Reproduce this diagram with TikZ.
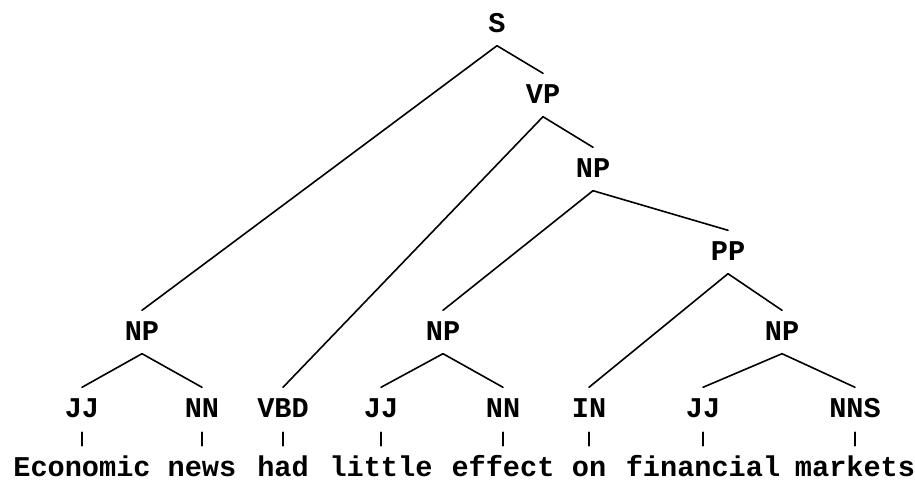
\documentclass[tikz,border=0pt]{standalone}
\usepackage{fontspec}
\newfontfamily\treefont{Liberation Mono}
\begin{document}
\begin{tikzpicture}[x=1pt,y=-1pt,
  lbl/.style={anchor=base,inner xsep=0pt,inner ysep=13.5pt,
    text height=16pt,text depth=0pt,
    font=\treefont\bfseries\fontsize{28.6}{30}\selectfont},
  word/.style={lbl,inner ysep=0.5pt},
  branch/.style={line width=1.6pt,line cap=round}]
\useasboundingbox[fill=white] (0,0) rectangle (915,479);

% phrase labels
\node[lbl] (S)   at (497,32)  {S};
\node[lbl] (VP)  at (543,103) {VP};
\node[lbl] (NPa) at (593,177) {NP};
\node[lbl] (PP)  at (728,260) {PP};
\node[lbl] (NPl) at (142,340) {NP};
\node[lbl] (NPm) at (443,340) {NP};
\node[lbl] (NPr) at (782,340) {NP};

% part-of-speech tags
\node[lbl] (t1) at (82,417)  {JJ};
\node[lbl] (t2) at (202,417) {NN};
\node[lbl] (t3) at (283,417) {VBD};
\node[lbl] (t4) at (381,417) {JJ};
\node[lbl] (t5) at (503,417) {NN};
\node[lbl] (t6) at (589,417) {IN};
\node[lbl] (t7) at (703,417) {JJ};
\node[lbl] (t8) at (855,417) {NNS};

% words
\node[word] (w1) at (82,476)  {Economic};
\node[word] (w2) at (202,476) {news};
\node[word] (w3) at (283,476) {had};
\node[word] (w4) at (381,476) {little};
\node[word] (w5) at (503,476) {effect};
\node[word] (w6) at (589,476) {on};
\node[word] (w7) at (703,476) {financial};
\node[word] (w8) at (855,476) {markets};

% branches
\draw[branch] (S.south) -- (NPl.north);
\draw[branch] (S.south) -- (VP.north);
\draw[branch] (VP.south) -- (t3.north);
\draw[branch] (VP.south) -- (NPa.north);
\draw[branch] (NPa.south) -- (NPm.north);
\draw[branch] (NPa.south) -- (PP.north);
\draw[branch] (PP.south) -- (t6.north);
\draw[branch] (PP.south) -- (NPr.north);
\draw[branch] (NPl.south) -- (t1.north);
\draw[branch] (NPl.south) -- (t2.north);
\draw[branch] (NPm.south) -- (t4.north);
\draw[branch] (NPm.south) -- (t5.north);
\draw[branch] (NPr.south) -- (t7.north);
\draw[branch] (NPr.south) -- (t8.north);

% tag-to-word ticks
\foreach \i in {1,...,8}
  \draw[branch] ([yshift=-1.5pt]t\i.south) -- ([yshift=13.5pt]w\i.north);
\end{tikzpicture}
\end{document}
